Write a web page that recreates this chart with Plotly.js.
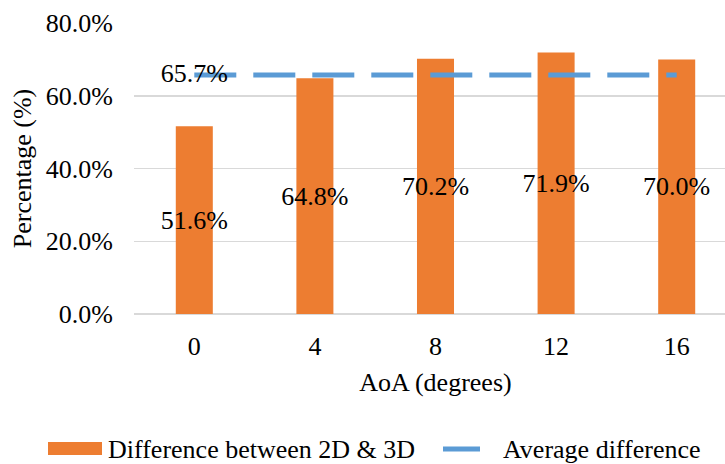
<!DOCTYPE html>
<html>
<head>
<meta charset="utf-8">
<script src="https://cdn.plot.ly/plotly-3.0.1.min.js"></script>
<style>
html, body { margin: 0; padding: 0; overflow: hidden; background: #fff; }
#chart { width: 740px; height: 464px; }
</style>
</head>
<body>
<div id="chart"></div>
<script>
const categories = ['0', '4', '8', '12', '16'];
const diffValues = [51.6, 64.8, 70.2, 71.9, 70.0];
const diffLabels = ['51.6%', '64.8%', '70.2%', '71.9%', '70.0%'];
const avgValue = 65.7;
const avgValues = categories.map(() => avgValue);
const avgLabels = ['65.7%', '', '', '', ''];
const yTickVals = [0, 20, 40, 60, 80];
const yTickText = ['0.0%', '20.0%', '40.0%', '60.0%', '80.0%'];
const seriesNames = ['Difference between 2D & 3D', 'Average difference'];

const FONT = 'Liberation Serif';
const BAR_COLOR = '#ED7D31';
const LINE_COLOR = '#5B9BD5';

const W = 740, H = 464;
const M = { l: 134, r: 3, t: 23, b: 150 };
const PW = W - M.l - M.r, PH = H - M.t - M.b;
const px = x => (x - M.l) / PW;
const py = y => (H - M.b - y) / PH;

const bars = {
  type: 'bar',
  name: seriesNames[0],
  x: categories,
  y: diffValues,
  text: diffLabels,
  textposition: 'inside',
  insidetextanchor: 'middle',
  constraintext: 'none',
  textangle: 0,
  textfont: { family: FONT, size: 26, color: '#000' },
  marker: { color: BAR_COLOR },
  showlegend: false
};

const avgLine = {
  type: 'scatter',
  mode: 'lines+text',
  name: seriesNames[1],
  x: categories,
  y: avgValues,
  text: avgLabels,
  textposition: 'middle center',
  textfont: { family: FONT, size: 26, color: '#000' },
  line: { color: LINE_COLOR, width: 5, dash: '42px,17px' },
  cliponaxis: false,
  showlegend: false
};

// legend drawn as shapes + text, positioned in pixels
const legendY = 449;
const shapes = [
  { type: 'rect', xref: 'paper', yref: 'paper',
    x0: px(48), x1: px(102), y0: py(442), y1: py(455),
    fillcolor: BAR_COLOR, line: { width: 0 } },
  { type: 'line', xref: 'paper', yref: 'paper',
    x0: px(443), x1: px(480), y0: py(legendY), y1: py(legendY),
    line: { color: LINE_COLOR, width: 5 } }
];
const annotations = [
  { xref: 'paper', yref: 'paper', x: px(106), y: py(legendY), xanchor: 'left', yanchor: 'middle',
    text: seriesNames[0].replace('&', '&amp;'), showarrow: false, font: { family: FONT, size: 26, color: '#000' } },
  { xref: 'paper', yref: 'paper', x: px(501), y: py(legendY), xanchor: 'left', yanchor: 'middle',
    text: seriesNames[1], showarrow: false, font: { family: FONT, size: 26, color: '#000' } }
];

const layout = {
  width: W,
  height: H,
  margin: M,
  paper_bgcolor: '#fff',
  plot_bgcolor: '#fff',
  font: { family: FONT, size: 26, color: '#000' },
  bargap: 0.693,
  showlegend: false,
  shapes: shapes,
  annotations: annotations,
  xaxis: {
    type: 'category',
    range: [-0.5, 4.5],
    showgrid: false,
    showline: false,
    zeroline: false,
    ticks: '',
    ticklabelstandoff: 14,
    tickfont: { family: FONT, size: 26, color: '#000' },
    title: { text: 'AoA (degrees)', font: { family: FONT, size: 26, color: '#000' }, standoff: 12 },
    automargin: false,
    fixedrange: true
  },
  yaxis: {
    range: [0, 80],
    tickvals: yTickVals,
    ticktext: yTickText,
    showgrid: true,
    gridcolor: '#d9d9d9',
    gridwidth: 1.5,
    zeroline: true,
    zerolinecolor: '#d9d9d9',
    zerolinewidth: 1.5,
    showline: false,
    ticks: '',
    ticklabelstandoff: 20,
    tickfont: { family: FONT, size: 26, color: '#000' },
    title: { text: 'Percentage (%)', font: { family: FONT, size: 26, color: '#000' }, standoff: 6 },
    automargin: false,
    fixedrange: true
  }
};

Plotly.newPlot('chart', [bars, avgLine], layout, { displayModeBar: false, staticPlot: true });
</script>
</body>
</html>
